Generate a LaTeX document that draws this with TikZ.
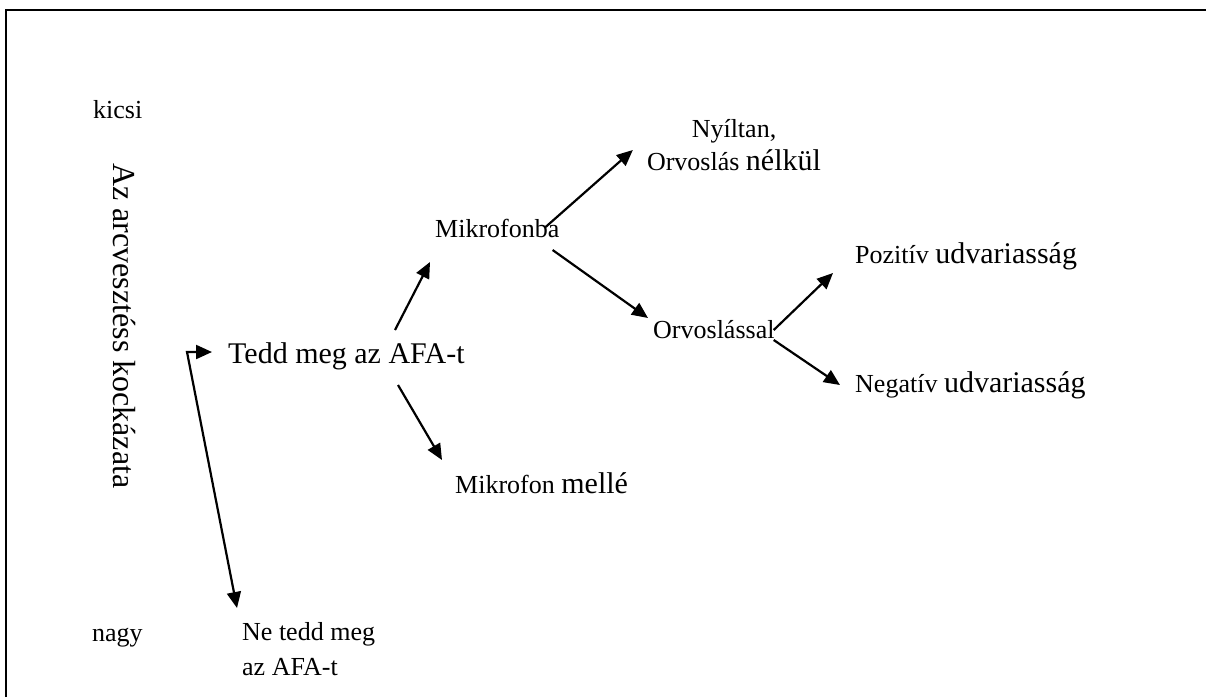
\documentclass[tikz,border=0pt]{standalone}
\usepackage{fontspec}
\setmainfont{Liberation Serif}
\usetikzlibrary{positioning}
\usetikzlibrary{arrows.meta}

\newcommand{\fsmall}{\fontsize{26}{33}\selectfont}
\newcommand{\fbig}{\fontsize{30}{33}\selectfont}

\tikzset{
    txt/.style={inner sep=0pt, font=\fsmall},
    branch/.style={-{Triangle[length=16pt, width=14pt]}, line width=2.2pt},
    twoway/.style={{Triangle[length=16pt, width=14pt]}-{Triangle[length=16pt, width=14pt]}, line width=2.2pt},
}

\begin{document}
\begin{tikzpicture}[x=1pt, y=-1pt]
    \useasboundingbox (0,0) rectangle (1206,697);
    \draw [line width=1.5pt] (6,697) -- (6,10) -- (1206,10);

    \node (kicsi) [txt, anchor=base west] at (93,118) {kicsi};
    \node (nagy) [txt, anchor=base west] at (92,641) {nagy};
    \node (risk) [txt, font=\fontsize{32}{33}\selectfont, rotate=-90, anchor=base west] at (113,163) {Az arcvesztéss kockázata};
    \node (tedd) [txt, font=\fontsize{30}{33}\selectfont, anchor=base west] at (228,363) {Tedd meg az AFA-t};
    \node (netedd) [txt, font=\fontsize{26}{35}\selectfont, anchor=base west] at (242,640) {
        \begin{tabular}[t]{@{}l@{}}
            Ne tedd meg \\
            az AFA-t
        \end{tabular}
    };
    \node (mikro) [txt, anchor=base west] at (435,237) {Mikrofonba};
    \node (melle) [txt, anchor=base west] at (455,493) {Mikrofon {\fbig mellé}};
    \node (nyilt) [txt, anchor=base] at (734,170) {
        \begin{tabular}[b]{@{}c@{}}
            Nyíltan, \\
            Orvoslás {\fbig nélkül}
        \end{tabular}
    };
    \node (orv) [txt, anchor=base west] at (653,338) {Orvoslással};
    \node (poz) [txt, anchor=base west] at (855,263) {Pozitív {\fbig udvariasság}};
    \node (neg) [txt, anchor=base west] at (855,392) {Negatív {\fbig udvariasság}};

    \coordinate (bend) at (187,352);
    \draw [twoway] ([xshift=-16pt, yshift=11pt]tedd.base west) -- (bend) -- ([xshift=-5pt, yshift=32pt]netedd.base west);
    \draw [branch] ([xshift=167pt, yshift=33pt]tedd.base west) -- ([xshift=-5pt, yshift=-25pt]mikro.base west);
    \draw [branch] ([xshift=170pt, yshift=-22pt]tedd.base west) -- ([xshift=-13pt, yshift=33pt]melle.base west);
    \draw [branch] ([xshift=-14pt, yshift=10pt]mikro.base east) -- ([xshift=-14pt, yshift=20pt]nyilt.base west);
    \draw [branch] ([xshift=-7pt, yshift=-13pt]mikro.base east) -- ([xshift=-5pt, yshift=20pt]orv.base west);
    \draw [branch] ([xshift=-1pt, yshift=8pt]orv.base east) -- ([xshift=-22pt, yshift=-10pt]poz.base west);
    \draw [branch] ([xshift=-1pt, yshift=-2pt]orv.base east) -- ([xshift=-15pt, yshift=7pt]neg.base west);
\end{tikzpicture}
\end{document}
